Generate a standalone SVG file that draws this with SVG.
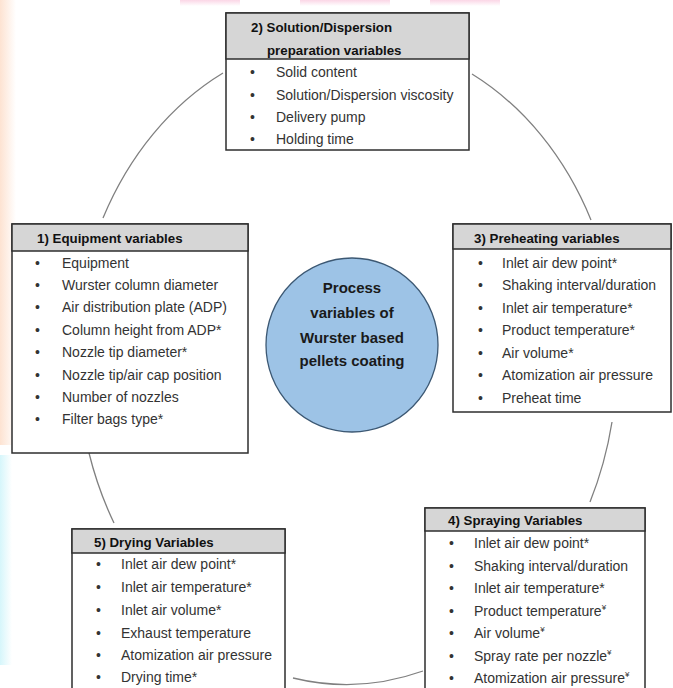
<svg xmlns="http://www.w3.org/2000/svg" width="673" height="688" viewBox="0 0 673 688">
<style>
.box{fill:#ffffff;stroke:#2e2e2e;stroke-width:1.5}
.hdr{fill:#d6d6d6;stroke:#2e2e2e;stroke-width:1.5}
.ht{font-family:"Liberation Sans",Arial,sans-serif;font-weight:bold;font-size:13.3px;fill:#111}
.it{font-family:"Liberation Sans",Arial,sans-serif;font-size:14px;fill:#333}
.bl{font-family:"Liberation Sans",Arial,sans-serif;font-size:14px;fill:#333}
.ct{font-family:"Liberation Sans",Arial,sans-serif;font-weight:bold;font-size:15px;fill:#1a1a1a;text-anchor:middle}
.con{fill:none;stroke:#808080;stroke-width:1.3}
.sup{font-size:8px}
</style>
<defs>
<linearGradient id="peach" x1="0" y1="0" x2="1" y2="0">
<stop offset="0" stop-color="#fde3d2"/>
<stop offset="1" stop-color="#fde3d2" stop-opacity="0"/>
</linearGradient>
<linearGradient id="cyan" x1="0" y1="0" x2="1" y2="0">
<stop offset="0" stop-color="#d6f6fb"/>
<stop offset="1" stop-color="#d6f6fb" stop-opacity="0"/>
</linearGradient>
<linearGradient id="pink" x1="0" y1="0" x2="0" y2="1">
<stop offset="0" stop-color="#fbd6e6"/>
<stop offset="1" stop-color="#fbd6e6" stop-opacity="0"/>
</linearGradient>
</defs>
<rect x="0" y="0" width="673" height="688" fill="#ffffff"/>
<g id="background-tint">
<rect x="0" y="0" width="16" height="445" fill="url(#peach)"/>
<rect x="0" y="455" width="12" height="210" fill="url(#cyan)"/>
<rect x="180" y="0" width="60" height="6" fill="url(#pink)"/>
<rect x="300" y="0" width="90" height="6" fill="url(#pink)"/>
<rect x="430" y="0" width="70" height="6" fill="url(#pink)"/>
</g>
<g id="connectors">
<path class="con" d="M103 218 A270 325 0 0 1 223 73"/>
<path class="con" d="M472 74 A270 325 0 0 1 591 220"/>
<path class="con" d="M612 422 A270 325 0 0 1 590 502"/>
<path class="con" d="M423 671 A270 325 0 0 1 293 678"/>
<path class="con" d="M114 523 A270 325 0 0 1 89 453"/>
</g>
<g id="center">
<ellipse cx="352" cy="345" rx="86" ry="87" fill="#9dc3e6" stroke="#3c5873" stroke-width="1.3"/>
<text class="ct" x="352" y="293">Process</text>
<text class="ct" x="352" y="318">variables of</text>
<text class="ct" x="352" y="343">Wurster based</text>
<text class="ct" x="352" y="366">pellets coating</text>
</g>
<g id="box2">
<rect class="box" x="226" y="13" width="243" height="137"/>
<rect class="hdr" x="226" y="13" width="243" height="46"/>
<text class="ht" x="251" y="32">2) Solution/Dispersion</text>
<text class="ht" x="267" y="55">preparation variables</text>
<text class="bl" x="250" y="77">•</text><text class="it" x="276" y="77">Solid content</text>
<text class="bl" x="250" y="100">•</text><text class="it" x="276" y="100">Solution/Dispersion viscosity</text>
<text class="bl" x="250" y="122">•</text><text class="it" x="276" y="122">Delivery pump</text>
<text class="bl" x="250" y="144">•</text><text class="it" x="276" y="144">Holding time</text>
</g>
<g id="box1">
<rect class="box" x="12" y="224" width="236" height="229"/>
<rect class="hdr" x="12" y="224" width="236" height="27"/>
<text class="ht" x="37" y="243">1) Equipment variables</text>
<text class="bl" x="35" y="268">•</text><text class="it" x="62" y="268">Equipment</text>
<text class="bl" x="35" y="290">•</text><text class="it" x="62" y="290">Wurster column diameter</text>
<text class="bl" x="35" y="312">•</text><text class="it" x="62" y="312">Air distribution plate (ADP)</text>
<text class="bl" x="35" y="335">•</text><text class="it" x="62" y="335">Column height from ADP*</text>
<text class="bl" x="35" y="357">•</text><text class="it" x="62" y="357">Nozzle tip diameter*</text>
<text class="bl" x="35" y="380">•</text><text class="it" x="62" y="380">Nozzle tip/air cap position</text>
<text class="bl" x="35" y="402">•</text><text class="it" x="62" y="402">Number of nozzles</text>
<text class="bl" x="35" y="424">•</text><text class="it" x="62" y="424">Filter bags type*</text>
</g>
<g id="box3">
<rect class="box" x="453" y="224" width="218" height="188"/>
<rect class="hdr" x="453" y="224" width="218" height="25"/>
<text class="ht" x="474" y="243">3) Preheating variables</text>
<text class="bl" x="478" y="268">•</text><text class="it" x="502" y="268">Inlet air dew point*</text>
<text class="bl" x="478" y="290">•</text><text class="it" x="502" y="290">Shaking interval/duration</text>
<text class="bl" x="478" y="313">•</text><text class="it" x="502" y="313">Inlet air temperature*</text>
<text class="bl" x="478" y="335">•</text><text class="it" x="502" y="335">Product temperature*</text>
<text class="bl" x="478" y="358">•</text><text class="it" x="502" y="358">Air volume*</text>
<text class="bl" x="478" y="380">•</text><text class="it" x="502" y="380">Atomization air pressure</text>
<text class="bl" x="478" y="403">•</text><text class="it" x="502" y="403">Preheat time</text>
</g>
<g id="box4">
<rect class="box" x="425" y="508" width="220" height="190"/>
<rect class="hdr" x="425" y="508" width="220" height="23"/>
<text class="ht" x="448" y="525">4) Spraying Variables</text>
<text class="bl" x="449" y="548">•</text><text class="it" x="474" y="548">Inlet air dew point*</text>
<text class="bl" x="449" y="571">•</text><text class="it" x="474" y="571">Shaking interval/duration</text>
<text class="bl" x="449" y="593">•</text><text class="it" x="474" y="593">Inlet air temperature*</text>
<text class="bl" x="449" y="616">•</text><text class="it" x="474" y="616">Product temperature<tspan class="sup" dy="-6">¥</tspan></text>
<text class="bl" x="449" y="638">•</text><text class="it" x="474" y="638">Air volume<tspan class="sup" dy="-6">¥</tspan></text>
<text class="bl" x="449" y="661">•</text><text class="it" x="474" y="661">Spray rate per nozzle<tspan class="sup" dy="-6">¥</tspan></text>
<text class="bl" x="449" y="683">•</text><text class="it" x="474" y="683">Atomization air pressure<tspan class="sup" dy="-6">¥</tspan></text>
</g>
<g id="box5">
<rect class="box" x="72" y="529" width="213" height="170"/>
<rect class="hdr" x="72" y="529" width="213" height="24"/>
<text class="ht" x="94" y="547">5) Drying Variables</text>
<text class="bl" x="96" y="569">•</text><text class="it" x="121" y="569">Inlet air dew point*</text>
<text class="bl" x="96" y="592">•</text><text class="it" x="121" y="592">Inlet air temperature*</text>
<text class="bl" x="96" y="615">•</text><text class="it" x="121" y="615">Inlet air volume*</text>
<text class="bl" x="96" y="638">•</text><text class="it" x="121" y="638">Exhaust temperature</text>
<text class="bl" x="96" y="660">•</text><text class="it" x="121" y="660">Atomization air pressure</text>
<text class="bl" x="96" y="682">•</text><text class="it" x="121" y="682">Drying time*</text>
</g>
</svg>
